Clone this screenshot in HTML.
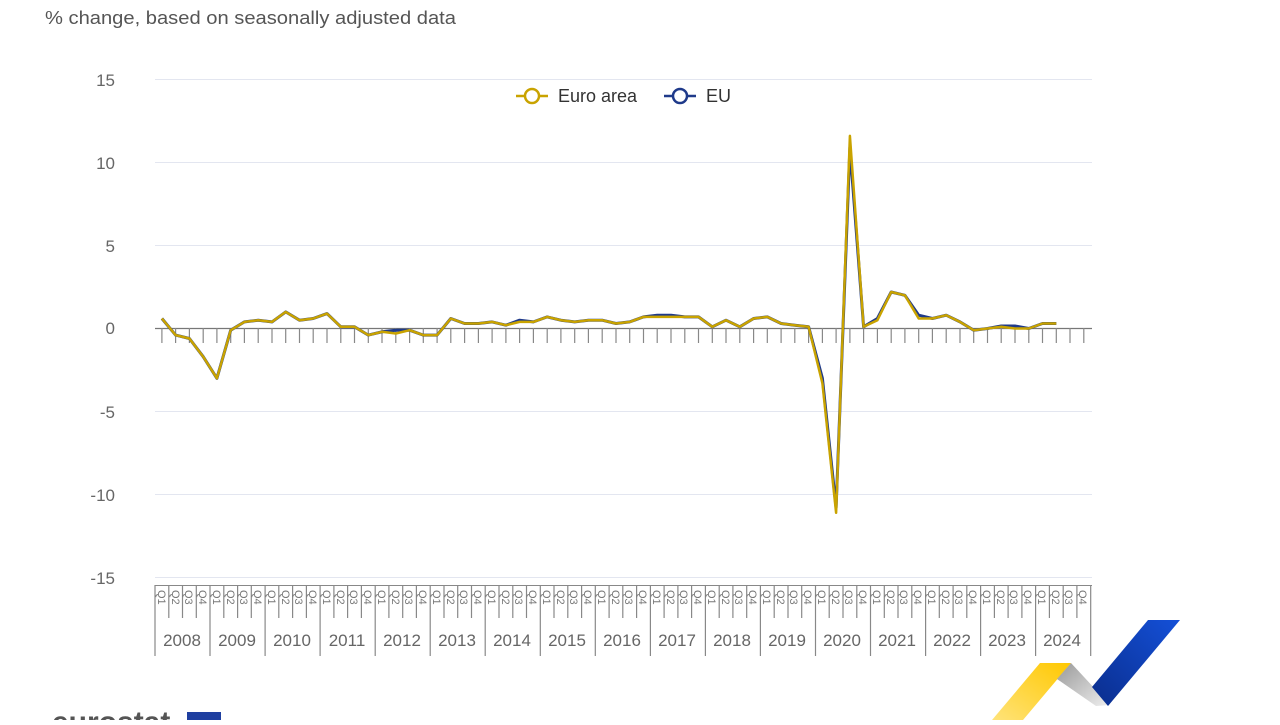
<!DOCTYPE html>
<html><head><meta charset="utf-8"><style>
body{margin:0;background:#fff;width:1280px;height:720px;overflow:hidden;font-family:"Liberation Sans",Arial,sans-serif}
svg text{font-family:"Liberation Sans",Arial,sans-serif}
</style></head><body>
<svg id="s" width="1280" height="720" xmlns="http://www.w3.org/2000/svg">
<text x="45" y="24" font-size="18" fill="#555" textLength="411" lengthAdjust="spacingAndGlyphs">% change, based on seasonally adjusted data</text>
<g font-size="17" fill="#666" text-anchor="end">
<text x="115" y="86">15</text><text x="115" y="169">10</text><text x="115" y="252">5</text><text x="115" y="334">0</text>
<text x="115" y="418">-5</text><text x="115" y="501">-10</text><text x="115" y="584">-15</text></g>
<g stroke="#e3e6f0" stroke-width="1">
<line x1="155" x2="1092" y1="79.5" y2="79.5"/><line x1="155" x2="1092" y1="162.5" y2="162.5"/><line x1="155" x2="1092" y1="245.5" y2="245.5"/>
<line x1="155" x2="1092" y1="411.5" y2="411.5"/><line x1="155" x2="1092" y1="494.5" y2="494.5"/><line x1="155" x2="1092" y1="577.5" y2="577.5"/></g>
<line x1="155" x2="1092" y1="328.5" y2="328.5" stroke="#777" stroke-width="1.2"/>
<line x1="155" x2="1092" y1="585.5" y2="585.5" stroke="#888" stroke-width="1"/>
<g id="ticks" stroke="#888" stroke-width="1.2"></g>
<g id="lines" fill="none" stroke-linejoin="round"></g>
<g font-size="17" fill="#666" text-anchor="middle">
<text x="182" y="646">2008</text><text x="237" y="646">2009</text><text x="292" y="646">2010</text><text x="347" y="646">2011</text>
<text x="402" y="646">2012</text><text x="457" y="646">2013</text><text x="512" y="646">2014</text><text x="567" y="646">2015</text>
<text x="622" y="646">2016</text><text x="677" y="646">2017</text><text x="732" y="646">2018</text><text x="787" y="646">2019</text>
<text x="842" y="646">2020</text><text x="897" y="646">2021</text><text x="952" y="646">2022</text><text x="1007" y="646">2023</text>
<text x="1062" y="646">2024</text></g>
<g>
<line x1="516" x2="548" y1="96" y2="96" stroke="#c9a300" stroke-width="2.5"/><circle cx="532" cy="96" r="7" fill="#fff" stroke="#c9a300" stroke-width="2.5"/>
<text x="558" y="102" font-size="18" fill="#333">Euro area</text>
<line x1="664" x2="696" y1="96" y2="96" stroke="#1f3a8a" stroke-width="2.5"/><circle cx="680" cy="96" r="7" fill="#fff" stroke="#1f3a8a" stroke-width="2.5"/>
<text x="706" y="102" font-size="18" fill="#333">EU</text></g>
<defs><linearGradient id="gy" x1="0" y1="1" x2="1" y2="0"><stop offset="0" stop-color="#ffe37a"/><stop offset="1" stop-color="#ffc800"/></linearGradient>
<linearGradient id="gg" x1="0" y1="0" x2="1" y2="1"><stop offset="0" stop-color="#999"/><stop offset="1" stop-color="#eee"/></linearGradient>
<linearGradient id="gb" x1="0" y1="1" x2="1" y2="0"><stop offset="0" stop-color="#0a2d8c"/><stop offset="1" stop-color="#1450d8"/></linearGradient></defs>
<polygon points="992,720 1040,663 1071,663 1023,720" fill="url(#gy)"/>
<polygon points="1057,679 1071,663 1110,705 1096,706" fill="url(#gg)"/>
<polygon points="1092,687 1148,620 1180,620 1108,706" fill="url(#gb)"/>
<text x="52" y="732" font-size="30" font-weight="bold" fill="#555">eurostat</text>
<rect x="187" y="712" width="34" height="12" fill="#1f3fa0"/>
</svg>
<script>
function X(i){return 155+13.76*(i+0.5);}
function Y(v){return 328.5-v*16.6;}
var t=document.getElementById('ticks'),h='';
for(var i=0;i<68;i++){var x=X(i).toFixed(1);h+='<line x1="'+x+'" x2="'+x+'" y1="328" y2="343"/>';}
for(var k=0;k<=17;k++){var x=(155+55.04*k).toFixed(1);h+='<line x1="'+x+'" x2="'+x+'" y1="585" y2="656"/>';
 for(var j=1;j<4&&k<17;j++){var xx=(155+55.04*k+13.76*j).toFixed(1);h+='<line x1="'+xx+'" x2="'+xx+'" y1="585" y2="618"/>';}}
t.innerHTML=h;
var ea=[0.6,-0.4,-0.6,-1.7,-3.0,-0.1,0.4,0.5,0.4,1.0,0.5,0.6,0.9,0.1,0.1,-0.4,-0.2,-0.3,-0.1,-0.4,-0.4,0.6,0.3,0.3,0.4,0.2,0.4,0.4,0.7,0.5,0.4,0.5,0.5,0.3,0.4,0.7,0.7,0.7,0.7,0.7,0.1,0.5,0.1,0.6,0.7,0.3,0.2,0.1,-3.3,-11.1,11.6,0.1,0.5,2.2,2.0,0.6,0.6,0.8,0.4,-0.1,0.0,0.1,0.0,0.0,0.3,0.3];
var eu=ea.slice();eu[50]=10.9;eu[55]=0.8;eu[36]=0.8;eu[37]=0.8;eu[48]=-3.0;eu[49]=-10.8;eu[52]=0.6;eu[61]=0.15;eu[62]=0.15;eu[17]=-0.1;eu[26]=0.5;
function pts(a){return a.map(function(v,i){return X(i).toFixed(1)+','+Y(v).toFixed(1);}).join(' ');}
document.getElementById('lines').innerHTML='<polyline points="'+pts(eu)+'" stroke="#1f3a8a" stroke-width="3"/><polyline points="'+pts(ea)+'" stroke="#c9a300" stroke-width="2.5"/>';
</script>
<div style="position:absolute;left:0;top:0;width:1280px;height:720px;pointer-events:none">
<svg width="1280" height="720" xmlns="http://www.w3.org/2000/svg" font-family="Liberation Sans, sans-serif" font-size="11" fill="#777">
<g transform="translate(155,0)"><text transform="translate(3,590) rotate(90)">Q1</text><text transform="translate(17,590) rotate(90)">Q2</text><text transform="translate(30,590) rotate(90)">Q3</text><text transform="translate(44,590) rotate(90)">Q4</text></g>
<g transform="translate(210,0)"><text transform="translate(3,590) rotate(90)">Q1</text><text transform="translate(17,590) rotate(90)">Q2</text><text transform="translate(30,590) rotate(90)">Q3</text><text transform="translate(44,590) rotate(90)">Q4</text></g>
<g transform="translate(265,0)"><text transform="translate(3,590) rotate(90)">Q1</text><text transform="translate(17,590) rotate(90)">Q2</text><text transform="translate(30,590) rotate(90)">Q3</text><text transform="translate(44,590) rotate(90)">Q4</text></g>
<g transform="translate(320,0)"><text transform="translate(3,590) rotate(90)">Q1</text><text transform="translate(17,590) rotate(90)">Q2</text><text transform="translate(30,590) rotate(90)">Q3</text><text transform="translate(44,590) rotate(90)">Q4</text></g>
<g transform="translate(375,0)"><text transform="translate(3,590) rotate(90)">Q1</text><text transform="translate(17,590) rotate(90)">Q2</text><text transform="translate(30,590) rotate(90)">Q3</text><text transform="translate(44,590) rotate(90)">Q4</text></g>
<g transform="translate(430,0)"><text transform="translate(3,590) rotate(90)">Q1</text><text transform="translate(17,590) rotate(90)">Q2</text><text transform="translate(30,590) rotate(90)">Q3</text><text transform="translate(44,590) rotate(90)">Q4</text></g>
<g transform="translate(485,0)"><text transform="translate(3,590) rotate(90)">Q1</text><text transform="translate(17,590) rotate(90)">Q2</text><text transform="translate(30,590) rotate(90)">Q3</text><text transform="translate(44,590) rotate(90)">Q4</text></g>
<g transform="translate(540,0)"><text transform="translate(3,590) rotate(90)">Q1</text><text transform="translate(17,590) rotate(90)">Q2</text><text transform="translate(30,590) rotate(90)">Q3</text><text transform="translate(44,590) rotate(90)">Q4</text></g>
<g transform="translate(595,0)"><text transform="translate(3,590) rotate(90)">Q1</text><text transform="translate(17,590) rotate(90)">Q2</text><text transform="translate(30,590) rotate(90)">Q3</text><text transform="translate(44,590) rotate(90)">Q4</text></g>
<g transform="translate(650,0)"><text transform="translate(3,590) rotate(90)">Q1</text><text transform="translate(17,590) rotate(90)">Q2</text><text transform="translate(30,590) rotate(90)">Q3</text><text transform="translate(44,590) rotate(90)">Q4</text></g>
<g transform="translate(705,0)"><text transform="translate(3,590) rotate(90)">Q1</text><text transform="translate(17,590) rotate(90)">Q2</text><text transform="translate(30,590) rotate(90)">Q3</text><text transform="translate(44,590) rotate(90)">Q4</text></g>
<g transform="translate(760,0)"><text transform="translate(3,590) rotate(90)">Q1</text><text transform="translate(17,590) rotate(90)">Q2</text><text transform="translate(30,590) rotate(90)">Q3</text><text transform="translate(44,590) rotate(90)">Q4</text></g>
<g transform="translate(815,0)"><text transform="translate(3,590) rotate(90)">Q1</text><text transform="translate(17,590) rotate(90)">Q2</text><text transform="translate(30,590) rotate(90)">Q3</text><text transform="translate(44,590) rotate(90)">Q4</text></g>
<g transform="translate(870,0)"><text transform="translate(3,590) rotate(90)">Q1</text><text transform="translate(17,590) rotate(90)">Q2</text><text transform="translate(30,590) rotate(90)">Q3</text><text transform="translate(44,590) rotate(90)">Q4</text></g>
<g transform="translate(925,0)"><text transform="translate(3,590) rotate(90)">Q1</text><text transform="translate(17,590) rotate(90)">Q2</text><text transform="translate(30,590) rotate(90)">Q3</text><text transform="translate(44,590) rotate(90)">Q4</text></g>
<g transform="translate(980,0)"><text transform="translate(3,590) rotate(90)">Q1</text><text transform="translate(17,590) rotate(90)">Q2</text><text transform="translate(30,590) rotate(90)">Q3</text><text transform="translate(44,590) rotate(90)">Q4</text></g>
<g transform="translate(1035,0)"><text transform="translate(3,590) rotate(90)">Q1</text><text transform="translate(17,590) rotate(90)">Q2</text><text transform="translate(30,590) rotate(90)">Q3</text><text transform="translate(44,590) rotate(90)">Q4</text></g>
</svg></div>
</body></html>
